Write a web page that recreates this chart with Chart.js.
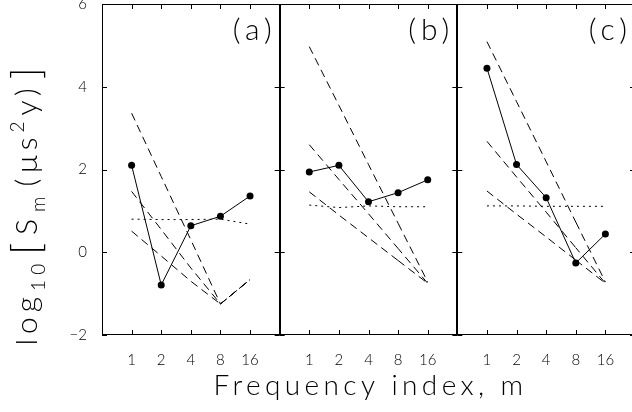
<!DOCTYPE html>
<html>
<head>
<meta charset="utf-8">
<script src="https://cdn.jsdelivr.net/npm/chart.js@4.4.0/dist/chart.umd.min.js"></script>
<style>
  html, body { margin: 0; padding: 0; background: #fff; overflow: hidden; }
  #wrap { position: relative; width: 640px; height: 412px; }
</style>
</head>
<body>
<div id="wrap"><canvas id="myChart"></canvas></div>
<script>
// frequency index labels (same for each panel)
const mLabels = ['1', '2', '4', '8', '16'];
const panelNames = ['(a)', '(b)', '(c)'];
const yTicks = [-2, 0, 2, 4, 6];

// measured spectra (solid, dots)
const specA = [2.1, -0.79, 0.64, 0.87, 1.36];
const specB = [1.94, 2.1, 1.22, 1.44, 1.75];
const specC = [4.45, 2.12, 1.32, -0.26, 0.44];

// dotted reference level
const flatA = [0.8, 0.79, 0.79, 0.8, 0.68];
const flatB = [1.14, 1.08, 1.12, 1.1, 1.1];
const flatC = [1.12, 1.12, 1.11, 1.11, 1.11];

// dashed model lines
const fitA1 = [3.36, 1.83, 0.3, -1.25, -0.66];
const fitA2 = [1.47, 0.55, -0.38, -1.25, -0.66];
const fitA3 = [0.51, -0.09, -0.7, -1.25, -0.66];
const fitB1 = [4.97, 3.55, 2.12, 0.7, -0.72];
const fitB2 = [2.6, 1.76, 0.93, 0.09, -0.75];
const fitB3 = [1.46, 0.9, 0.35, -0.2, -0.75];
const fitC1 = [5.09, 3.64, 2.19, 0.73, -0.72];
const fitC2 = [2.68, 1.82, 0.97, 0.11, -0.75];
const fitC3 = [1.48, 0.92, 0.37, -0.19, -0.75];

const panels = [
  { spec: specA, flat: flatA, fits: [fitA1, fitA2, fitA3] },
  { spec: specB, flat: flatB, fits: [fitB1, fitB2, fitB3] },
  { spec: specC, flat: flatC, fits: [fitC1, fitC2, fitC3] },
];

const FONT = "'Lato', 'DejaVu Sans', sans-serif";

// each panel is 6 units wide on one shared x scale, categories at 1..5
const toPoints = (arr, k) => arr.map((v, i) => ({ x: 6 * k + i + 1, y: v }));

// dash phase for the overlapping 8->16 piece in panel (a)
const lastDashOffset = [0, 2, 0];

const datasets = [];
panels.forEach((p, k) => {
  p.fits.forEach((f, j) => {
    datasets.push({
      data: toPoints(f, k), borderColor: '#000', borderWidth: 1,
      borderDash: [8, 5], pointRadius: 0, fill: false,
      segment: {
        borderDashOffset: (c) => (c.p0DataIndex === 3 ? lastDashOffset[j] + 0.01 : 0)
      }
    });
  });
  datasets.push({
    data: toPoints(p.flat, k), borderColor: '#000', borderWidth: 1,
    borderDash: [2, 4], pointRadius: 0, fill: false
  });
  datasets.push({
    data: toPoints(p.spec, k), borderColor: '#000', borderWidth: 1,
    pointRadius: 3.5, pointBackgroundColor: '#000', pointBorderWidth: 0, fill: false
  });
});

const xTickValues = [];
for (let k = 0; k < 3; k++) mLabels.forEach((l, i) => xTickValues.push(6 * k + i + 1));

// panel boxes, inward ticks, panel letters and the axis titles
const framePlugin = {
  id: 'frames',
  afterDraw(chart) {
    const { ctx, chartArea, scales } = chart;
    const xs = scales.x, ys = scales.y;
    const top = chartArea.top, bottom = chartArea.bottom;
    ctx.save();
    ctx.strokeStyle = '#000';
    ctx.lineWidth = 1;
    ctx.beginPath();
    ctx.moveTo(chartArea.left, top + 0.5); ctx.lineTo(chartArea.right, top + 0.5);
    ctx.moveTo(chartArea.left, bottom - 0.5); ctx.lineTo(chartArea.right, bottom - 0.5);
    ctx.stroke();
    for (let k = 0; k <= 3; k++) {
      const x = Math.round(xs.getPixelForValue(6 * k));
      ctx.lineWidth = k === 0 ? 1 : 2;
      ctx.beginPath();
      ctx.moveTo(x + (k === 0 ? 0.5 : 0), top); ctx.lineTo(x + (k === 0 ? 0.5 : 0), bottom);
      ctx.stroke();
    }
    ctx.lineWidth = 1;
    ctx.beginPath();
    xTickValues.forEach(v => {
      const x = Math.round(xs.getPixelForValue(v)) + 0.5;
      ctx.moveTo(x, top); ctx.lineTo(x, top + 5);
      ctx.moveTo(x, bottom); ctx.lineTo(x, bottom - 5);
    });
    yTicks.forEach(v => {
      const y = Math.round(ys.getPixelForValue(v)) + 0.5;
      for (let k = 0; k <= 3; k++) {
        const x = xs.getPixelForValue(6 * k);
        if (k < 3) { ctx.moveTo(x, y); ctx.lineTo(x + 5, y); }
        if (k > 0) { ctx.moveTo(x, y); ctx.lineTo(x - 5, y); }
      }
    });
    ctx.stroke();

    ctx.fillStyle = '#000';

    // panel letters
    ctx.font = '300 30px ' + FONT;
    ctx.letterSpacing = '5px';
    ctx.textAlign = 'right';
    ctx.textBaseline = 'middle';
    panelNames.forEach((n, k) => {
      ctx.fillText(n, xs.getPixelForValue(6 * k + 6) - 3, top + 26);
    });

    // x title
    ctx.font = '300 28px ' + FONT;
    ctx.letterSpacing = '4.4px';
    ctx.textAlign = 'left';
    ctx.textBaseline = 'alphabetic';
    const xt = 'Frequency index, m';
    const xw = ctx.measureText(xt).width;
    const xmid = (xs.getPixelForValue(0) + xs.getPixelForValue(18)) / 2;
    ctx.fillText(xt, xmid - xw / 2 + 2, 395);

    // y title: log10[Sm(μs²y)]
    const segs = [
      { t: 'log', s: 30, dy: 0, g: 1 },
      { t: '10', s: 19, dy: 8, g: 4 },
      { t: '[', s: 40, dy: 3, g: 3 },
      { t: 'S', s: 30, dy: 0, g: 2 },
      { t: 'm', s: 19, dy: 8, g: 5 },
      { t: '(', s: 30, dy: 0, g: 1 },
      { t: 'μs', s: 30, dy: 0, g: 0 },
      { t: '2', s: 19, dy: -13, g: 1 },
      { t: 'y)', s: 30, dy: 0, g: 4 },
      { t: ']', s: 40, dy: 3, g: 0 },
    ];
    ctx.letterSpacing = '5px';
    let total = 0;
    segs.forEach(sg => { ctx.font = '300 ' + sg.s + 'px ' + FONT; sg.w = ctx.measureText(sg.t).width; total += sg.w + sg.g; });
    ctx.translate(37, 204);
    ctx.rotate(-Math.PI / 2);
    let cx = -total / 2;
    segs.forEach(sg => {
      ctx.font = '300 ' + sg.s + 'px ' + FONT;
      ctx.fillText(sg.t, cx, sg.dy);
      cx += sg.w + sg.g;
    });
    ctx.restore();
  }
};

new Chart(document.getElementById('myChart'), {
  type: 'line',
  data: { datasets },
  options: {
    responsive: true,
    maintainAspectRatio: false,
    animation: false,
    layout: { padding: { left: 0, right: 5, top: 4, bottom: 0 } },
    plugins: { legend: { display: false }, tooltip: { enabled: false } },
    scales: {
      x: {
        type: 'linear', min: 0, max: 18,
        grid: { display: false }, border: { display: false },
        afterBuildTicks: (scale) => { scale.ticks = xTickValues.map(v => ({ value: v })); },
        afterFit: (scale) => { scale.height = 77; scale.paddingLeft = 0; scale.paddingRight = 0; },
        ticks: {
          autoSkip: false, maxRotation: 0, padding: 8, color: '#000',
          font: { family: FONT, size: 15, weight: '300' },
          callback: (v) => mLabels[(v % 6) - 1]
        }
      },
      y: {
        type: 'linear', min: -2, max: 6,
        grid: { display: false }, border: { display: false },
        afterBuildTicks: (scale) => { scale.ticks = yTicks.map(v => ({ value: v })); },
        afterFit: (scale) => { scale.width = 102; scale.paddingTop = 0; scale.paddingBottom = 0; },
        ticks: {
          padding: 7, color: '#000',
          font: { family: FONT, size: 15, weight: '300' },
          callback: (v) => v < 0 ? '\u2212' + Math.abs(v) : String(v)
        }
      }
    }
  },
  plugins: [framePlugin]
});
</script>
</body>
</html>
